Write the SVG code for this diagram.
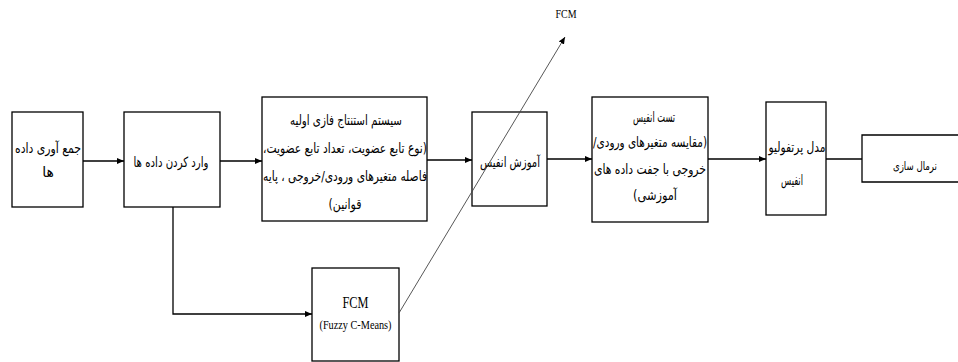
<svg xmlns="http://www.w3.org/2000/svg" width="958" height="362" viewBox="0 0 958 362">
<style>
.box{fill:#fff;stroke:#000;stroke-width:1.3}
.ar{font-family:"DejaVu Sans",sans-serif;font-size:14px;fill:#000;text-anchor:middle;direction:rtl}
.en{font-family:"Liberation Serif",serif;fill:#000;text-anchor:middle}
.ln{fill:none;stroke:#000;stroke-width:1.3}
.dg{fill:none;stroke:#444;stroke-width:0.9}
</style>
<defs>
<marker id="ah" markerWidth="7" markerHeight="6" refX="7" refY="3" orient="auto" markerUnits="userSpaceOnUse">
<path d="M0,0 L7,3 L0,6 z" fill="#000"/>
</marker>
</defs>
<rect width="958" height="362" fill="#fff"/>
<g id="n1">
<rect class="box" x="12" y="112" width="71" height="95"/>
<text class="ar" x="48" y="153" textLength="66" lengthAdjust="spacingAndGlyphs">جمع آوری داده</text>
<text class="ar" x="48" y="177">ها</text>
</g>
<g id="n2">
<rect class="box" x="124" y="112" width="96" height="95"/>
<text class="ar" x="171" y="167" textLength="75" lengthAdjust="spacingAndGlyphs">وارد کردن داده ها</text>
</g>
<g id="n3">
<rect class="box" x="262" y="97" width="165" height="124"/>
<text class="ar" x="346" y="125" textLength="112" lengthAdjust="spacingAndGlyphs">سیستم استنتاج فازی اولیه</text>
<text class="ar" x="345" y="153" textLength="164" lengthAdjust="spacingAndGlyphs">(نوع تابع عضویت، تعداد تابع عضویت،</text>
<text class="ar" x="345" y="181" textLength="164" lengthAdjust="spacingAndGlyphs">فاصله متغیرهای ورودی/خروجی ، پایه</text>
<text class="ar" x="345" y="209" textLength="33" lengthAdjust="spacingAndGlyphs">قوانین)</text>
</g>
<g id="n4">
<rect class="box" x="472" y="112" width="75" height="94"/>
<text class="ar" x="510" y="167" textLength="60" lengthAdjust="spacingAndGlyphs">آموزش انفیس</text>
</g>
<g id="n5">
<rect class="box" x="592" y="97" width="116" height="125"/>
<text class="ar" x="654" y="122" textLength="42" lengthAdjust="spacingAndGlyphs">تست انفیس</text>
<text class="ar" x="650" y="147" textLength="114" lengthAdjust="spacingAndGlyphs">(مقایسه متغیرهای ورودی/</text>
<text class="ar" x="650" y="174" textLength="112" lengthAdjust="spacingAndGlyphs">خروجی با جفت داده های</text>
<text class="ar" x="655" y="200" textLength="44" lengthAdjust="spacingAndGlyphs">آموزشی)</text>
</g>
<g id="n6">
<rect class="box" x="766" y="102" width="60" height="113"/>
<text class="ar" x="797" y="152" textLength="57" lengthAdjust="spacingAndGlyphs">مدل پرتفولیو</text>
<text class="ar" x="792" y="185" textLength="22" lengthAdjust="spacingAndGlyphs">انفیس</text>
</g>
<g id="n7">
<path class="box" d="M958,135 H862 V182 H958"/>
<text class="ar" x="915" y="170" font-size="12" style="font-size:12px" textLength="44" lengthAdjust="spacingAndGlyphs">نرمال سازی</text>
</g>
<g id="n8">
<rect class="box" x="312" y="268" width="87" height="93"/>
<text class="en" x="355.5" y="308" font-size="17" textLength="26" lengthAdjust="spacingAndGlyphs">FCM</text>
<text class="en" x="355.5" y="329" font-size="12" textLength="72" lengthAdjust="spacingAndGlyphs">(Fuzzy C-Means)</text>
</g>
<g id="n9">
<text class="en" x="566" y="18" font-size="12" textLength="21" lengthAdjust="spacingAndGlyphs">FCM</text>
</g>
<g id="connectors">
<line class="ln" x1="83" y1="161" x2="124" y2="161" marker-end="url(#ah)"/>
<line class="ln" x1="220" y1="161" x2="262" y2="161" marker-end="url(#ah)"/>
<line class="ln" x1="427" y1="160" x2="472" y2="160" marker-end="url(#ah)"/>
<line class="ln" x1="547" y1="159" x2="592" y2="159" marker-end="url(#ah)"/>
<line class="ln" x1="708" y1="159" x2="766" y2="159" marker-end="url(#ah)"/>
<line class="ln" x1="826" y1="159" x2="862" y2="159"/>
<polyline class="ln" points="173,207 173,314 312,314" marker-end="url(#ah)"/>
<line class="dg" x1="399" y1="313" x2="565" y2="37" marker-end="url(#ah)"/>
</g>
</svg>
